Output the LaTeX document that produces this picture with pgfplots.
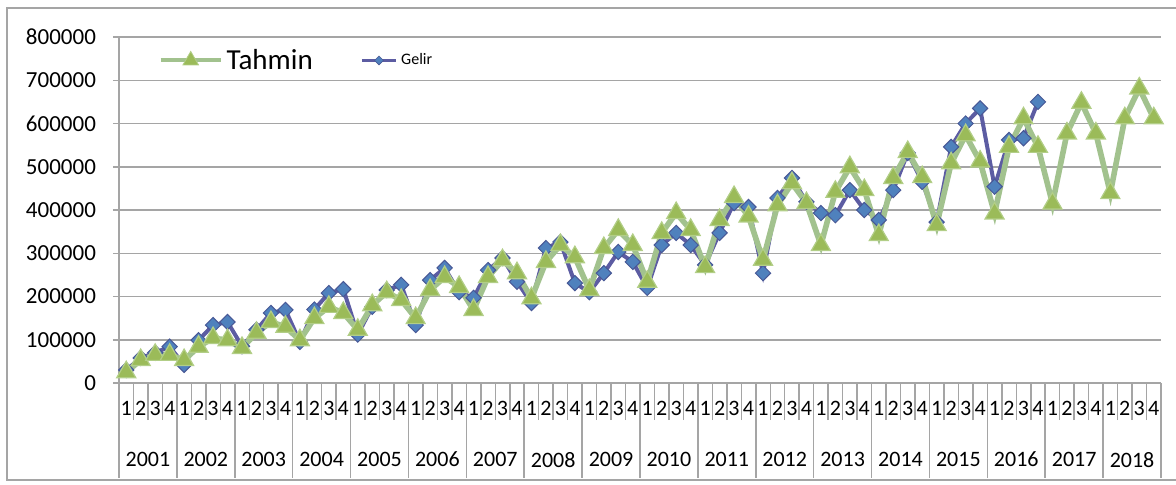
\documentclass[border=0pt]{standalone}
\usepackage{fontspec}
\setmainfont{Carlito}
\usepackage{pgfplots}
\pgfplotsset{compat=1.18}
\definecolor{gelirline}{RGB}{92,92,162}
\definecolor{gelirfill}{RGB}{79,129,189}
\definecolor{gelirdraw}{RGB}{72,88,150}
\definecolor{tahline}{RGB}{162,194,142}
\definecolor{tahfill}{RGB}{155,187,89}
\definecolor{tahdraw}{RGB}{178,206,135}
\definecolor{gridc}{RGB}{165,165,165}
\begin{document}
\begin{tikzpicture}
\path[use as bounding box] (0pt,0pt) rectangle (588pt,242pt);
\draw[gridc, line width=0.6pt] (3.5pt,2pt) rectangle (620pt,238pt);
\begin{axis}[
  at={(59.5pt,50.5pt)}, anchor=south west,
  scale only axis, width=521pt, height=173pt,
  xmin=-0.5, xmax=71.5, ymin=0, ymax=800000,
  clip=false,
  axis x line*=bottom, axis y line*=left,
  axis line style={gridc, line width=0.75pt},
  tick align=outside,
  major tick length=3pt,
  minor tick length=18.5pt,
  ytick={0,100000,...,800000},
  ytick style={gridc, line width=0.75pt},
  ymajorgrids, grid style={gridc, line width=0.75pt},
  scaled y ticks=false,
  yticklabel style={/pgf/number format/fixed, /pgf/number format/set thousands separator={}, /pgf/number format/assume math mode=true, font=\fontsize{11.5}{13}\selectfont, xshift=-5pt},
  xtick={0,...,71},
  major x tick style={draw=none},
  minor xtick={-0.5,0.5,...,71.5},
  minor x tick style={gridc, line width=0.75pt},
  xticklabels={1,2,3,4,1,2,3,4,1,2,3,4,1,2,3,4,1,2,3,4,1,2,3,4,1,2,3,4,1,2,3,4,1,2,3,4,1,2,3,4,1,2,3,4,1,2,3,4,1,2,3,4,1,2,3,4,1,2,3,4,1,2,3,4,1,2,3,4,1,2,3,4},
  xticklabel style={font=\fontsize{11}{13}\selectfont, inner xsep=0pt, yshift=-2.5pt},
  extra x ticks={1.5,5.5,...,69.5},
  extra x tick labels={2001,2002,2003,2004,2005,2006,2007,2008,2009,2010,2011,2012,2013,2014,2015,2016,2017,2018},
  extra x tick style={xmajorgrids=false, tick label style={yshift=-25.5pt}},
  reverse legend,
  legend columns=2,
  legend style={at={(rel axis cs:0.032,0.99)}, anchor=north west, draw=none, fill=none,
    /tikz/every even column/.append style={column sep=22pt}},
]
\pgfplotsinvokeforeach{-0.5,3.5,...,71.5}{\draw[gridc, line width=0.75pt] (axis cs:#1,0) -- ++(0pt,-47.5pt);}
\addplot[gelirline, line width=2pt, mark=square*, mark size=2.7pt,
  mark options={rotate=45, fill=gelirfill, draw=gelirdraw, line width=0.5pt},
  legend image code/.code={
    \draw[gelirline, line width=1.2pt] (0pt,0pt) -- (17pt,0pt);
    \draw[gelirdraw, fill=gelirfill, line width=0.3pt] (8.5pt,0pt) +(0pt,2.2pt) -- +(2.2pt,0pt) -- +(0pt,-2.2pt) -- +(-2.2pt,0pt) -- cycle;}]
coordinates {
(0,30000)(1,58000)(2,70000)(3,84000)
(4,42000)(5,99000)(6,134000)(7,141000)
(8,85000)(9,123000)(10,162000)(11,169000)
(12,95000)(13,170000)(14,208000)(15,217000)
(16,112000)(17,176000)(18,215000)(19,227000)
(20,134000)(21,238000)(22,266000)(23,210000)
(24,197000)(25,261000)(26,289000)(27,234000)
(28,185000)(29,312000)(30,326000)(31,231000)
(32,210000)(33,254000)(34,303000)(35,280000)
(36,220000)(37,319000)(38,347000)(39,319000)
(40,273000)(41,347000)(42,416000)(43,407000)
(44,254000)(45,428000)(46,474000)(47,419000)
(48,393000)(49,388000)(50,446000)(51,400000)
(52,377000)(53,446000)(54,532000)(55,465000)
(56,372000)(57,546000)(58,600000)(59,635000)
(60,454000)(61,562000)(62,566000)(63,650000)
};
\addlegendentry{\fontsize{8}{9}\selectfont Gelir}
\addplot[tahline, line width=2.8pt, mark=triangle*, mark size=5.5pt,
  mark options={fill=tahfill, draw=tahdraw, line width=0.6pt},
  legend image code/.code={
    \draw[tahline, line width=2pt] (0pt,0pt) -- (30pt,0pt);
    \draw[tahdraw, fill=tahfill, line width=0.4pt] (15pt,0pt) +(0pt,4.5pt) -- +(3.9pt,-2.25pt) -- +(-3.9pt,-2.25pt) -- cycle;}]
coordinates {
(0,25000)(1,53000)(2,65000)(3,65000)
(4,53000)(5,84000)(6,104000)(7,99000)
(8,81000)(9,116000)(10,141000)(11,130000)
(12,99000)(13,150000)(14,176000)(15,162000)
(16,123000)(17,180000)(18,210000)(19,192000)
(20,150000)(21,215000)(22,245000)(23,222000)
(24,169000)(25,245000)(26,284000)(27,254000)
(28,196000)(29,280000)(30,319000)(31,291000)
(32,215000)(33,312000)(34,354000)(35,319000)
(36,234000)(37,347000)(38,393000)(39,354000)
(40,268000)(41,377000)(42,430000)(43,385000)
(44,285000)(45,411000)(46,462000)(47,416000)
(48,319000)(49,442000)(50,499000)(51,446000)
(52,342000)(53,474000)(54,534000)(55,476000)
(56,365000)(57,508000)(58,573000)(59,512000)
(60,392000)(61,546000)(62,612000)(63,546000)
(64,415000)(65,577000)(66,648000)(67,577000)
(68,439000)(69,612000)(70,681000)(71,612000)
};
\addlegendentry{\fontsize{14.5}{16}\selectfont Tahmin}
\end{axis}
\end{tikzpicture}
\end{document}
